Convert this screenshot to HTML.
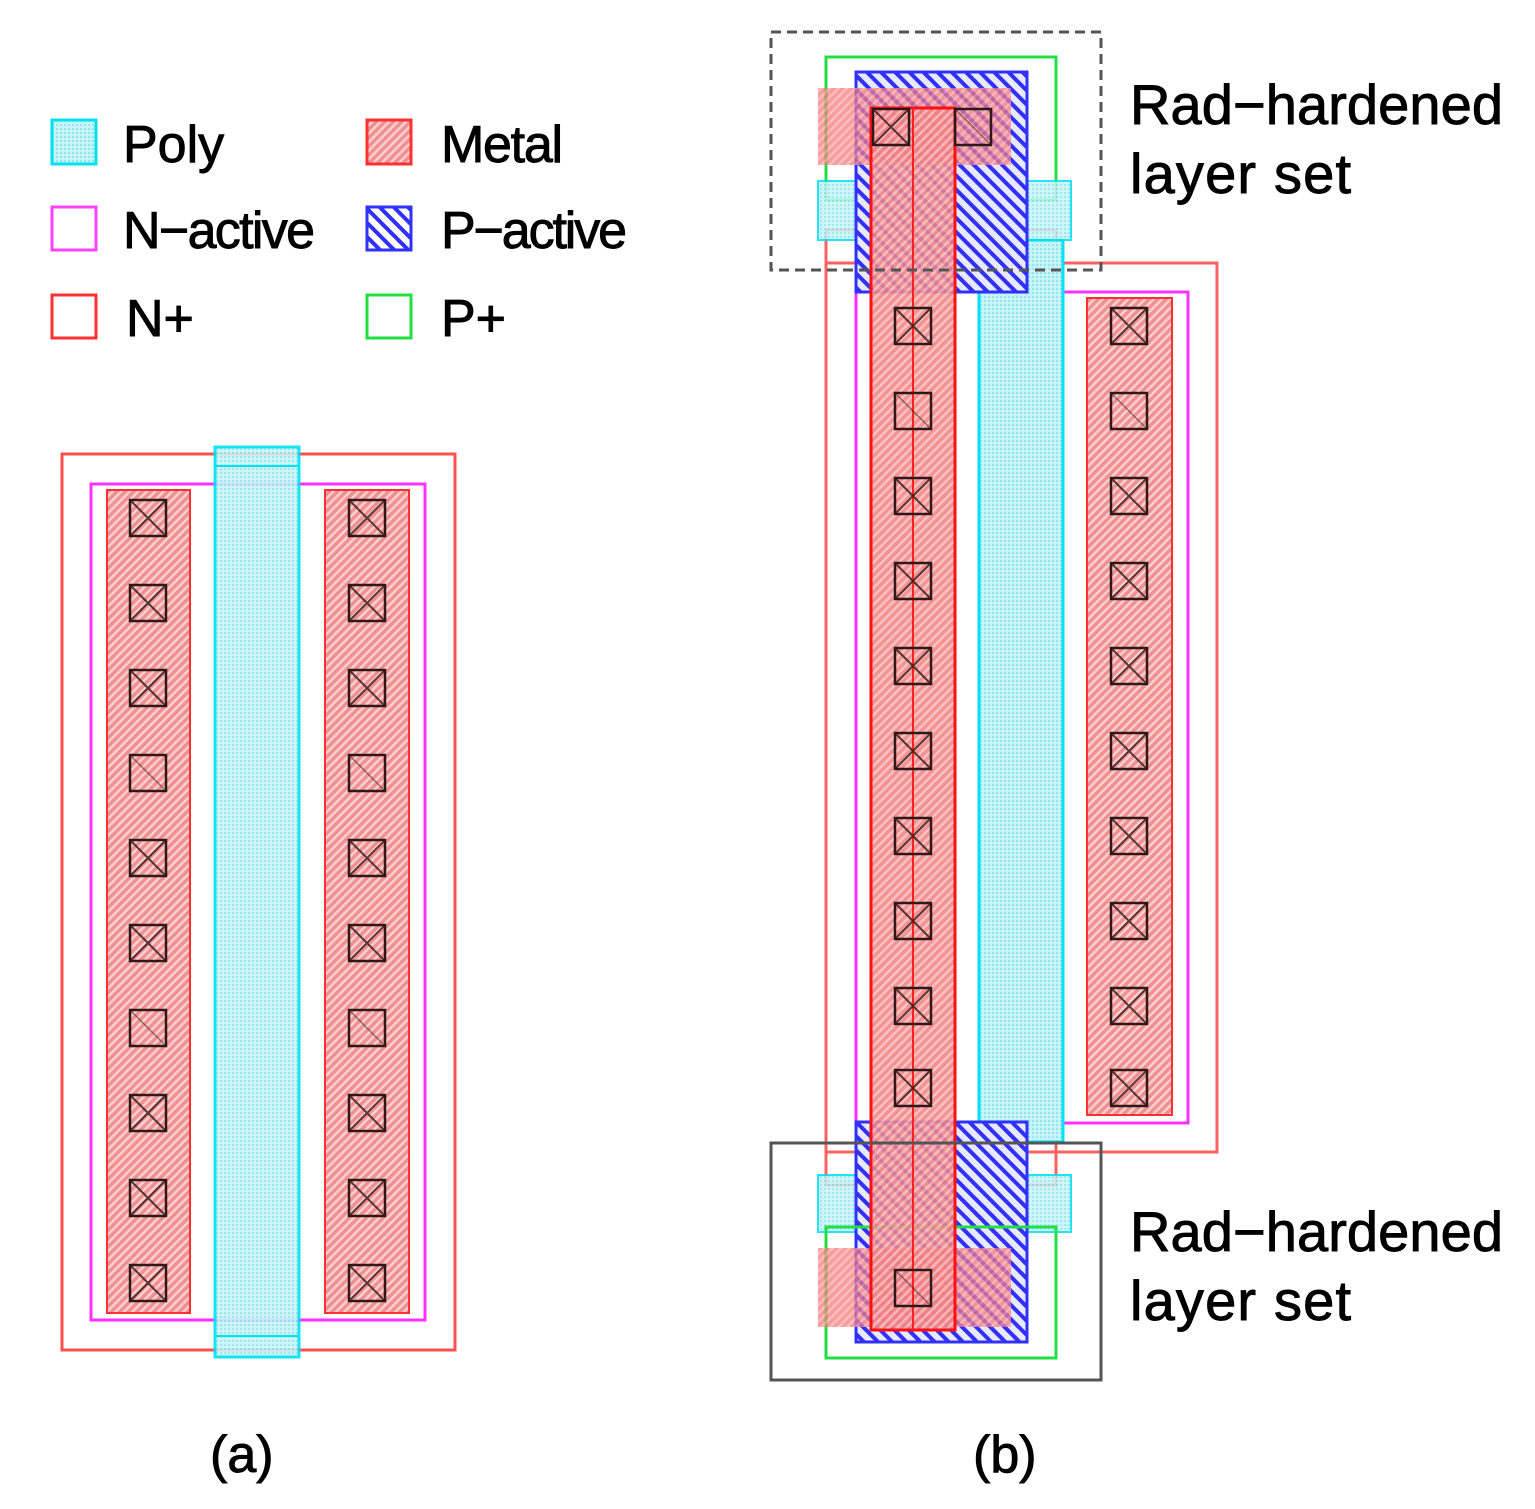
<!DOCTYPE html>
<html><head><meta charset="utf-8"><style>
html,body{margin:0;padding:0;background:#fff;}
svg{display:block;}
text{font-family:"Liberation Sans",sans-serif;fill:#000;stroke:#000;stroke-width:0.9;}
</style></head><body>
<svg width="1535" height="1509" viewBox="0 0 1535 1509" xmlns="http://www.w3.org/2000/svg">
<defs>
<pattern id="metal" width="6" height="6" patternUnits="userSpaceOnUse" patternTransform="rotate(45)">
<rect width="6" height="6" fill="#f09090"/><rect width="2.5" height="6" fill="#fbd0d0"/>
</pattern>
<pattern id="pact" width="10" height="10" patternUnits="userSpaceOnUse" patternTransform="rotate(-45)">
<rect width="10" height="10" fill="none"/><rect width="4" height="10" fill="#3030ff"/>
</pattern>
<pattern id="poly" width="4" height="4" patternUnits="userSpaceOnUse">
<rect width="4" height="4" fill="#c8f4f8"/><rect width="2" height="2" fill="#8ee6f0"/>
</pattern>
<g id="cx"><rect x="-18" y="-18" width="36" height="36" fill="none" stroke="#301818" stroke-width="2.5"/><path d="M-18,-18L18,18M18,-18L-18,18" stroke="#301818" stroke-width="2" opacity="0.8"/></g>
<g id="cd"><rect x="-18" y="-18" width="36" height="36" fill="none" stroke="#301818" stroke-width="2.5"/><path d="M-18,-18L18,18" stroke="#301818" stroke-width="1.5" opacity="0.5"/></g>
</defs>
<rect width="1535" height="1509" fill="#fff"/>

<!-- Legend -->
<rect x="52" y="120" width="44" height="44" fill="url(#poly)" stroke="#00e0f0" stroke-width="3"/>
<rect x="52" y="207" width="44" height="43" fill="none" stroke="#ff40ff" stroke-width="3"/>
<rect x="52" y="295" width="44" height="43" fill="none" stroke="#ff3030" stroke-width="3"/>
<rect x="367" y="120" width="44" height="44" fill="url(#metal)" stroke="#ff3030" stroke-width="3"/>
<rect x="367" y="207" width="44" height="43" fill="#fff" stroke="#3030ff" stroke-width="3"/>
<rect x="367" y="207" width="44" height="43" fill="url(#pact)"/>
<rect x="367" y="295" width="44" height="43" fill="none" stroke="#20e040" stroke-width="3"/>
<text x="123" y="162" font-size="52">Poly</text>
<text x="123" y="248" font-size="52" textLength="192">N−active</text>
<text x="126" y="336" font-size="52">N+</text>
<text x="441" y="162" font-size="52" textLength="122">Metal</text>
<text x="441" y="248" font-size="52" textLength="186">P−active</text>
<text x="441" y="336" font-size="52">P+</text>

<!-- (a) -->
<rect x="62" y="454" width="393" height="896" fill="none" stroke="#ff5050" stroke-width="3"/>
<rect x="91" y="484" width="334" height="836" fill="none" stroke="#ff30ff" stroke-width="3"/>
<rect x="107" y="490" width="83" height="823" fill="url(#metal)" stroke="#ff3030" stroke-width="2"/>
<rect x="325" y="490" width="84" height="823" fill="url(#metal)" stroke="#ff3030" stroke-width="2"/>
<rect x="215" y="447" width="84" height="910" fill="url(#poly)" stroke="#00e0f0" stroke-width="3" opacity="0.9"/>
<line x1="215" y1="466" x2="299" y2="466" stroke="#00e0f0" stroke-width="2"/>
<line x1="215" y1="1336" x2="299" y2="1336" stroke="#00e0f0" stroke-width="2"/>
<g>
<use href="#cx" x="148" y="518"/><use href="#cx" x="148" y="603"/><use href="#cx" x="148" y="688"/><use href="#cd" x="148" y="773"/><use href="#cx" x="148" y="858"/><use href="#cx" x="148" y="943"/><use href="#cd" x="148" y="1028"/><use href="#cx" x="148" y="1113"/><use href="#cx" x="148" y="1198"/><use href="#cx" x="148" y="1283"/>
<use href="#cx" x="367" y="518"/><use href="#cx" x="367" y="603"/><use href="#cx" x="367" y="688"/><use href="#cd" x="367" y="773"/><use href="#cx" x="367" y="858"/><use href="#cx" x="367" y="943"/><use href="#cd" x="367" y="1028"/><use href="#cx" x="367" y="1113"/><use href="#cx" x="367" y="1198"/><use href="#cx" x="367" y="1283"/>
</g>

<!-- (b) -->
<rect x="826" y="263" width="391" height="889" fill="none" stroke="#ff6060" stroke-width="3"/>
<rect x="826" y="230" width="230" height="955" fill="none" stroke="#ff6060" stroke-width="3"/>
<rect x="856" y="292" width="332" height="831" fill="none" stroke="#ff30ff" stroke-width="3"/>
<rect x="1087" y="298" width="85" height="817" fill="url(#metal)" stroke="#ff3030" stroke-width="2"/>
<rect x="979" y="240" width="84" height="902" fill="url(#poly)" stroke="#00e0f0" stroke-width="3"/>
<!-- top set -->
<rect x="826" y="57" width="230" height="143" fill="none" stroke="#20e040" stroke-width="3"/>
<rect x="818" y="181" width="253" height="59" fill="url(#poly)" stroke="#00e0f0" stroke-width="2" opacity="0.85"/>
<rect x="856" y="72" width="171" height="220" fill="#e8e8ff" stroke="#3030ff" stroke-width="3"/>
<rect x="856" y="72" width="171" height="220" fill="url(#pact)"/>
<rect x="818" y="88" width="193" height="77" fill="#ff4040" opacity="0.45"/>
<rect x="818" y="88" width="193" height="77" fill="url(#metal)" opacity="0.5"/>
<!-- bottom set -->
<rect x="818" y="1175" width="253" height="57" fill="url(#poly)" stroke="#00e0f0" stroke-width="2" opacity="0.85"/>
<rect x="856" y="1122" width="171" height="220" fill="#e8e8ff" stroke="#3030ff" stroke-width="3"/>
<rect x="856" y="1122" width="171" height="220" fill="url(#pact)"/>
<rect x="826" y="1227" width="230" height="131" fill="none" stroke="#20e040" stroke-width="3"/>
<rect x="818" y="1248" width="193" height="79" fill="#ff4040" opacity="0.45"/>
<rect x="818" y="1248" width="193" height="79" fill="url(#metal)" opacity="0.5"/>
<!-- left metal strip -->
<rect x="871" y="108" width="84" height="1222" fill="url(#metal)" opacity="0.85"/>
<rect x="871" y="108" width="84" height="1222" fill="#ff3030" opacity="0.12"/>
<rect x="871" y="108" width="84" height="1222" fill="none" stroke="#ff1010" stroke-width="3"/>
<line x1="913" y1="108" x2="913" y2="1330" stroke="#ff2020" stroke-width="2"/>
<g>
<use href="#cx" x="891" y="127"/><use href="#cd" x="973" y="127"/>
<use href="#cx" x="913" y="326"/><use href="#cd" x="913" y="411"/><use href="#cx" x="913" y="496"/><use href="#cx" x="913" y="581"/><use href="#cx" x="913" y="666"/><use href="#cx" x="913" y="751"/><use href="#cx" x="913" y="836"/><use href="#cx" x="913" y="921"/><use href="#cx" x="913" y="1006"/><use href="#cx" x="913" y="1088"/>
<use href="#cx" x="1129" y="326"/><use href="#cd" x="1129" y="411"/><use href="#cx" x="1129" y="496"/><use href="#cx" x="1129" y="581"/><use href="#cx" x="1129" y="666"/><use href="#cx" x="1129" y="751"/><use href="#cx" x="1129" y="836"/><use href="#cx" x="1129" y="921"/><use href="#cx" x="1129" y="1006"/><use href="#cx" x="1129" y="1088"/>
<use href="#cd" x="913" y="1288"/>
</g>
<rect x="771" y="32" width="330" height="238" fill="none" stroke="#555" stroke-width="3" stroke-dasharray="10,6"/>
<rect x="771" y="1143" width="330" height="237" fill="none" stroke="#555" stroke-width="3"/>

<text x="1130" y="124" font-size="56" textLength="373">Rad−hardened</text>
<text x="1130" y="193" font-size="56" textLength="221">layer set</text>
<text x="1130" y="1251" font-size="56" textLength="373">Rad−hardened</text>
<text x="1130" y="1320" font-size="56" textLength="221">layer set</text>

<text x="210" y="1472" font-size="52">(a)</text>
<text x="973" y="1472" font-size="52">(b)</text>
</svg>
</body></html>
